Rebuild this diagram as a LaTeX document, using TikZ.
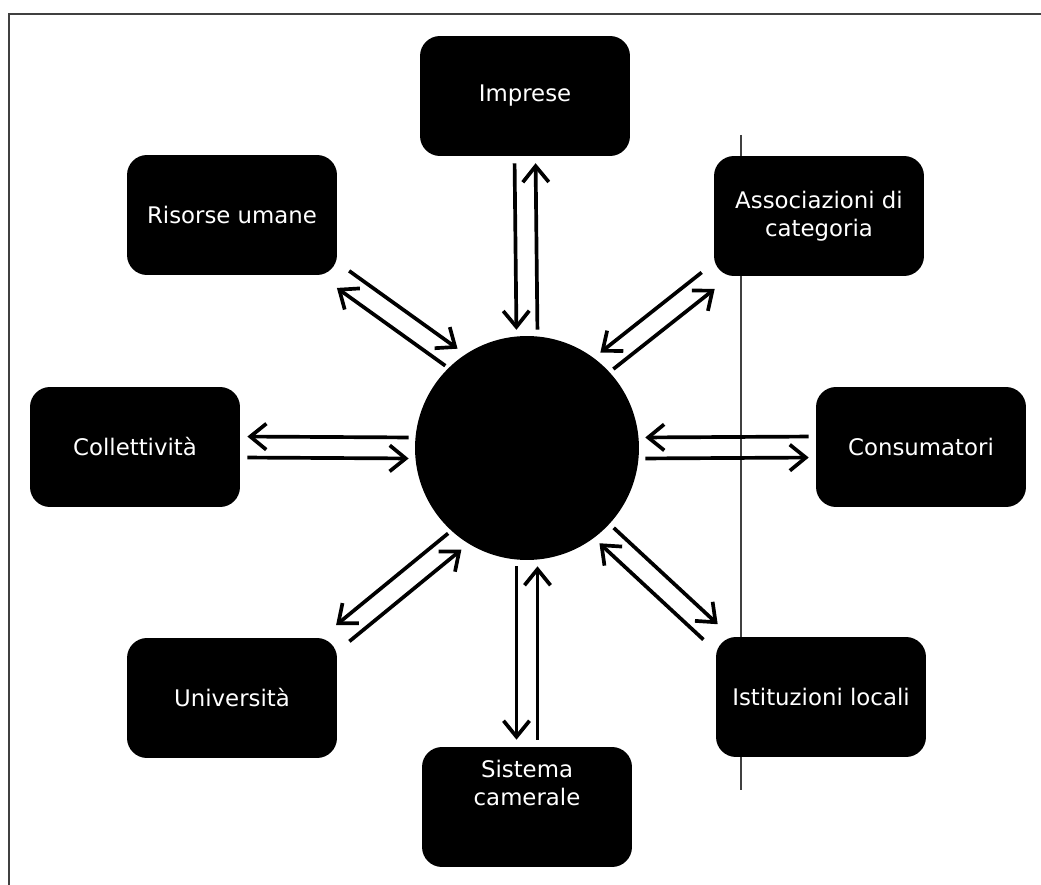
\documentclass[tikz,border=0pt]{standalone}
\usepackage{fontspec}
\setmainfont{DejaVu Sans}
\usetikzlibrary{arrows.meta,calc}

\newcommand{\pairgap}{0.21cm}
\newcommand{\boxgap}{0.14cm}
\newcommand{\hubgap}{0.12cm}
% two opposite arrows side by side, from box #1 to hub anchor #2
\newcommand{\twoway}[4]{%
  \draw[flow, shorten <=\boxgap, shorten >=\hubgap] ($(#1)!\pairgap!#3:(#2)$) -- ($(#2)!\pairgap!#4:(#1)$);
  \draw[flow, shorten <=\hubgap, shorten >=\boxgap] ($(#2)!\pairgap!#3:(#1)$) -- ($(#1)!\pairgap!#4:(#2)$);
}

\tikzset{
  actortext/.style={text=white, align=center, font=\fontsize{13}{16}\selectfont},
  actor/.style={actortext, fill=black, rounded corners=0.4cm, minimum width=4.2cm, minimum height=2.4cm},
  hubnode/.style={circle, fill=black, minimum size=4.48cm, inner sep=0pt},
  flow/.style={-{Straight Barb[length=3.2mm,width=5.2mm]}, line width=2.1pt},
  rule/.style={black!75, line width=0.7pt},
}

\begin{document}
\begin{tikzpicture}[x=0.02cm, y=-0.02cm]
        \useasboundingbox (0,0) rectangle (1041,885);

        % page frame and the stray vertical rule
        \draw[rule] (9,885) -- (9,14) -- (1041,14);
        \draw[rule] (741,135) -- (741,790);

        % centre
        \node[hubnode] (hub) at (527,448) {};

        % actors around it
        \node[actor] (imp) at (525,96) {Imprese};
        \node[actor] (ris) at (232,215) {Risorse umane};
        \node[actor] (ass) at (819,216) {Associazioni di\\categoria};
        \node[actor] (col) at (135,447) {Collettività};
        \node[actor] (con) at (921,447) {Consumatori};
        \node[actor] (uni) at (232,698) {Università};
        \node[actor] (ist) at (821,697) {Istituzioni locali};
        \node[actor, label={[actortext, yshift=0.48cm]center:{Sistema\\camerale}}] (sis) at (527,807) {};

        % arrows in both directions
        \twoway{imp.south}{hub.north}{-90}{90}
        \twoway{sis.north}{hub.south}{-90}{90}
        \twoway{col.east}{hub.west}{-90}{90}
        \twoway{con.west}{hub.east}{-90}{90}
        \twoway{ass.south west}{hub.48}{-90}{90}
        \twoway{uni.north east}{hub.233}{-90}{90}
        \twoway{ris.south east}{hub.129}{90}{-90}
        \twoway{ist.north west}{hub.-48}{90}{-90}
    \end{tikzpicture}
\end{document}
